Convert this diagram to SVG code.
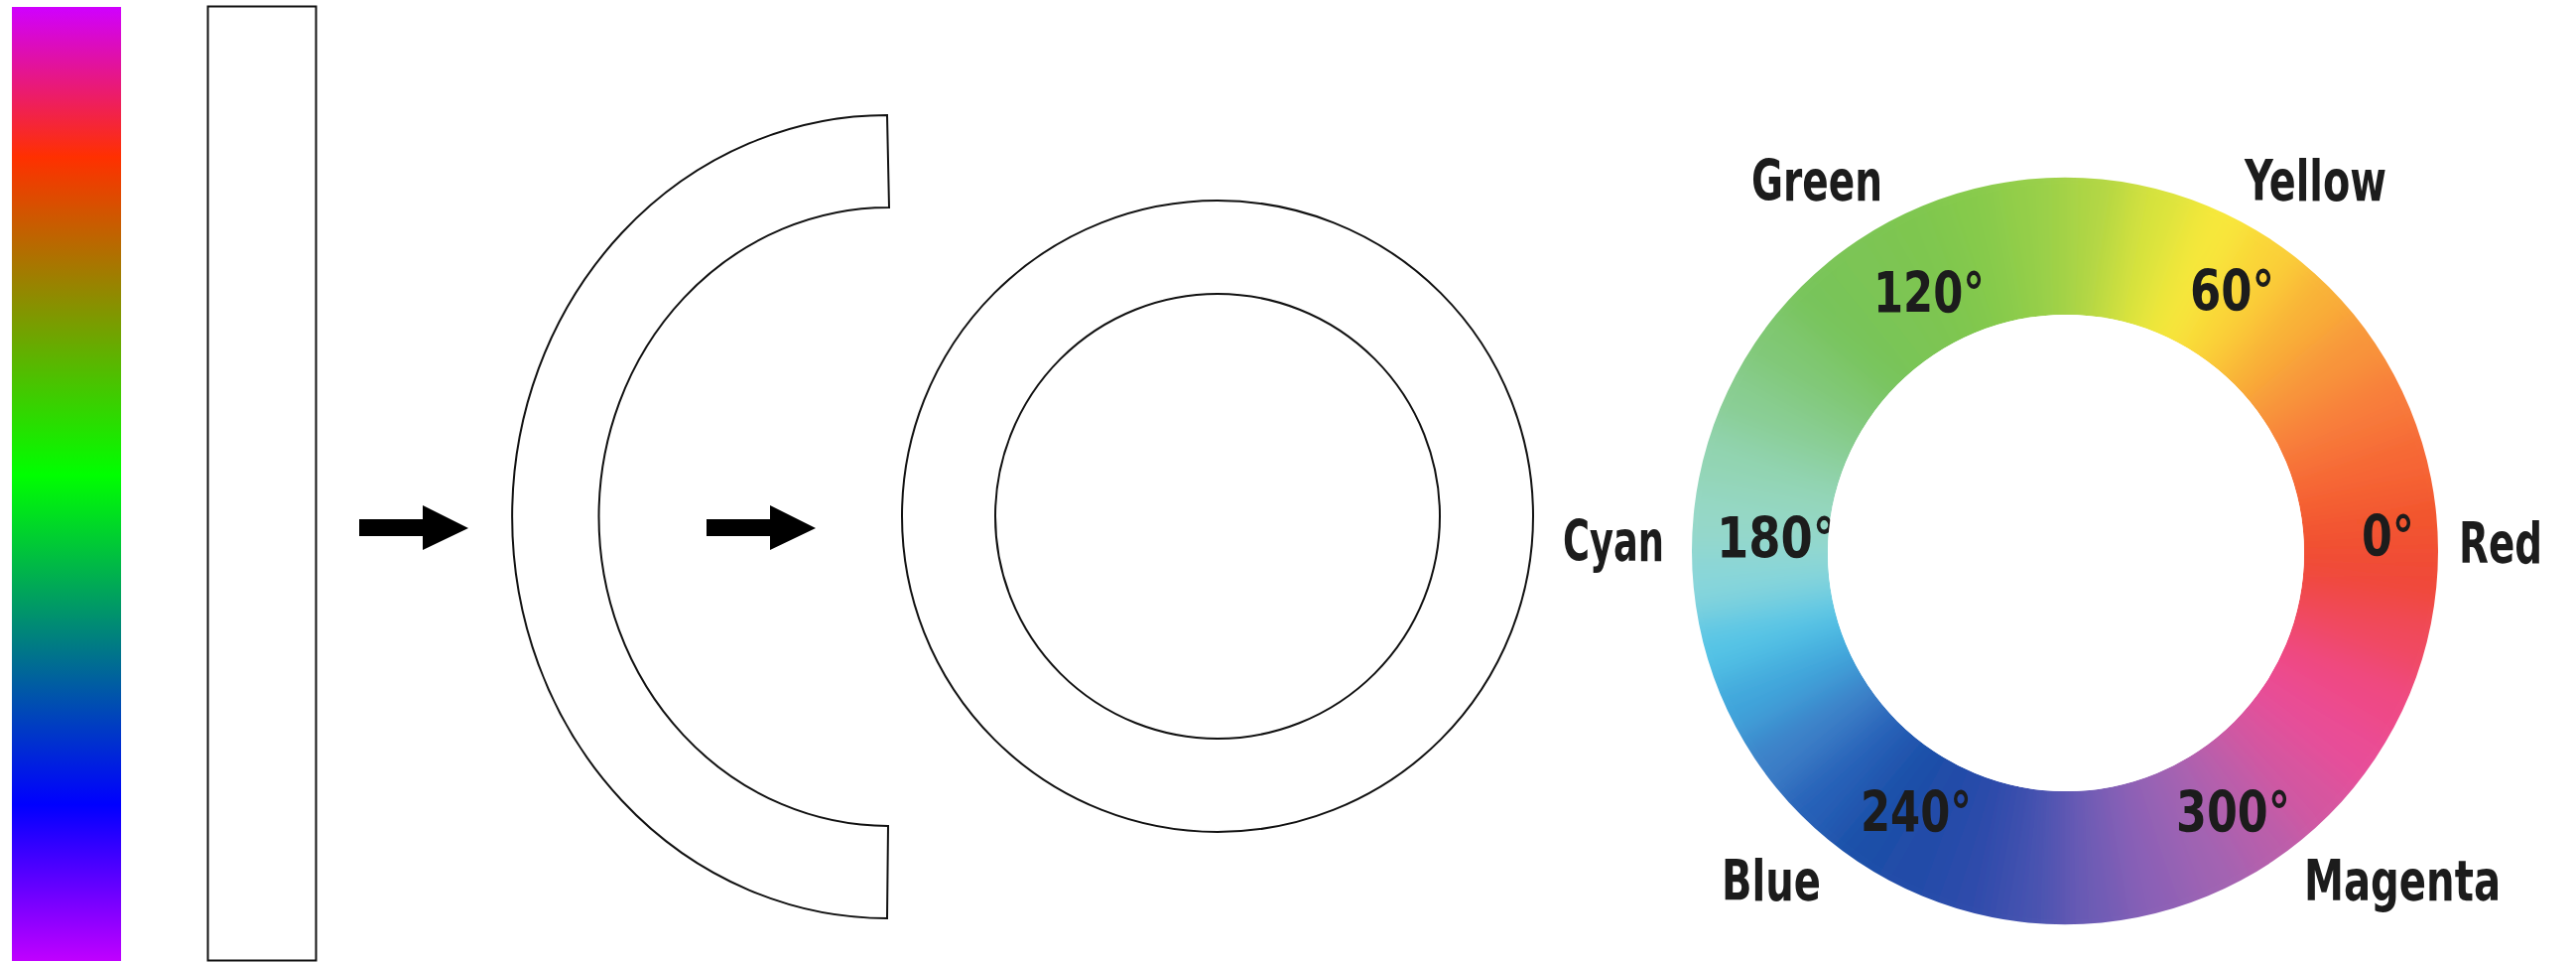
<svg xmlns="http://www.w3.org/2000/svg" xmlns:xlink="http://www.w3.org/1999/xlink" width="2596" height="969" viewBox="0 0 2596 969">
  <style>
    .outline { fill: #ffffff; stroke: #111111; stroke-width: 2; }
    .arrow { fill: #000000; stroke: none; }
    .lbl { font-family: 'Liberation Sans Narrow', 'DejaVu Sans Condensed', 'Roboto Condensed', 'Liberation Sans', sans-serif; font-weight: bold; font-size: 57px; fill: #1c1c1c; }
  </style>
  <defs>
    <linearGradient id="spectrum" x1="0" y1="0" x2="0" y2="1">
      <stop offset="0" stop-color="#d000ff"/>
      <stop offset="0.157" stop-color="#ff3000"/>
      <stop offset="0.49" stop-color="#00ff00"/>
      <stop offset="0.836" stop-color="#0000ff"/>
      <stop offset="1" stop-color="#c000ff"/>
    </linearGradient>
    <path id="wg" d="M0,0 L420,0 A420,420 0 0 0 412.97,-76.54 Z"/>
    <clipPath id="ringClip">
      <path clip-rule="evenodd" d="M1705,555 a376,376 0 1,0 752,0 a376,376 0 1,0 -752,0 Z M1842,557 a240,240 0 1,0 480,0 a240,240 0 1,0 -480,0 Z"/>
    </clipPath>
    <filter id="soft" x="-20%" y="-20%" width="140%" height="140%">
      <feGaussianBlur stdDeviation="20"/>
    </filter>
  </defs>

  <rect width="2596" height="969" fill="#ffffff"/>

  <g id="spectrum-bar">
    <rect x="12" y="7" width="110" height="961" fill="url(#spectrum)"/>
  </g>

  <g id="strip">
    <rect class="outline" x="209.5" y="6.5" width="109" height="961"/>
  </g>

  <g id="bent-strip">
    <path class="outline" d="M894,116 A378,404.5 0 0 0 894,925 L895,832 A292,311.5 0 0 1 896,209 Z"/>
  </g>

  <g id="ring">
    <circle class="outline" cx="1227" cy="520" r="318"/>
    <circle class="outline" cx="1227" cy="520" r="224"/>
  </g>

  <g id="connectors">
    <path class="arrow" d="M362,523 H426 V509 L472,532 L426,554 V540 H362 Z"/>
    <path class="arrow" d="M712,523 H776 V509 L822,532 L776,554 V540 H712 Z"/>
  </g>

  <g id="color-wheel">
    <g clip-path="url(#ringClip)">
      <g transform="translate(2081 556)" filter="url(#soft)">
        <use xlink:href="#wg" href="#wg" fill="#f2542d"/>
        <use xlink:href="#wg" href="#wg" transform="rotate(-10)" fill="#f66636"/>
        <use xlink:href="#wg" href="#wg" transform="rotate(-20)" fill="#f87c3a"/>
        <use xlink:href="#wg" href="#wg" transform="rotate(-30)" fill="#f8943a"/>
        <use xlink:href="#wg" href="#wg" transform="rotate(-40)" fill="#f9b139"/>
        <use xlink:href="#wg" href="#wg" transform="rotate(-50)" fill="#fad238"/>
        <use xlink:href="#wg" href="#wg" transform="rotate(-60)" fill="#f8e83a"/>
        <use xlink:href="#wg" href="#wg" transform="rotate(-70)" fill="#d8e33e"/>
        <use xlink:href="#wg" href="#wg" transform="rotate(-80)" fill="#b0d644"/>
        <use xlink:href="#wg" href="#wg" transform="rotate(-90)" fill="#96cf49"/>
        <use xlink:href="#wg" href="#wg" transform="rotate(-100)" fill="#86ca4c"/>
        <use xlink:href="#wg" href="#wg" transform="rotate(-110)" fill="#7ec650"/>
        <use xlink:href="#wg" href="#wg" transform="rotate(-120)" fill="#7bc555"/>
        <use xlink:href="#wg" href="#wg" transform="rotate(-130)" fill="#78c45a"/>
        <use xlink:href="#wg" href="#wg" transform="rotate(-140)" fill="#80c875"/>
        <use xlink:href="#wg" href="#wg" transform="rotate(-150)" fill="#89cd92"/>
        <use xlink:href="#wg" href="#wg" transform="rotate(-160)" fill="#92d4b2"/>
        <use xlink:href="#wg" href="#wg" transform="rotate(-170)" fill="#96d8c7"/>
        <use xlink:href="#wg" href="#wg" transform="rotate(-180)" fill="#88d6da"/>
        <use xlink:href="#wg" href="#wg" transform="rotate(-190)" fill="#55c5e6"/>
        <use xlink:href="#wg" href="#wg" transform="rotate(-200)" fill="#40a5db"/>
        <use xlink:href="#wg" href="#wg" transform="rotate(-210)" fill="#3c80c8"/>
        <use xlink:href="#wg" href="#wg" transform="rotate(-220)" fill="#2860b8"/>
        <use xlink:href="#wg" href="#wg" transform="rotate(-230)" fill="#1a50a8"/>
        <use xlink:href="#wg" href="#wg" transform="rotate(-240)" fill="#214ba8"/>
        <use xlink:href="#wg" href="#wg" transform="rotate(-250)" fill="#2f4bab"/>
        <use xlink:href="#wg" href="#wg" transform="rotate(-260)" fill="#4652b0"/>
        <use xlink:href="#wg" href="#wg" transform="rotate(-270)" fill="#6e5bb5"/>
        <use xlink:href="#wg" href="#wg" transform="rotate(-280)" fill="#8c61b6"/>
        <use xlink:href="#wg" href="#wg" transform="rotate(-290)" fill="#a063b2"/>
        <use xlink:href="#wg" href="#wg" transform="rotate(-300)" fill="#b85fab"/>
        <use xlink:href="#wg" href="#wg" transform="rotate(-310)" fill="#d456a0"/>
        <use xlink:href="#wg" href="#wg" transform="rotate(-320)" fill="#e84d98"/>
        <use xlink:href="#wg" href="#wg" transform="rotate(-330)" fill="#ef4985"/>
        <use xlink:href="#wg" href="#wg" transform="rotate(-340)" fill="#f0495f"/>
        <use xlink:href="#wg" href="#wg" transform="rotate(-350)" fill="#f04a37"/>
      </g>
    </g>
    <g id="wheel-labels">
      <text class="lbl" x="1765" y="202" textLength="132" lengthAdjust="spacingAndGlyphs">Green</text>
      <text class="lbl" x="2262" y="202" textLength="143" lengthAdjust="spacingAndGlyphs">Yellow</text>
      <text class="lbl" x="1888" y="315" textLength="112" lengthAdjust="spacingAndGlyphs">120°</text>
      <text class="lbl" x="2207" y="313" textLength="85" lengthAdjust="spacingAndGlyphs">60°</text>
      <text class="lbl" x="1575" y="565" textLength="102" lengthAdjust="spacingAndGlyphs">Cyan</text>
      <text class="lbl" x="1730" y="562" textLength="120" lengthAdjust="spacingAndGlyphs">180°</text>
      <text class="lbl" x="2380" y="560" textLength="53" lengthAdjust="spacingAndGlyphs">0°</text>
      <text class="lbl" x="2478" y="567" textLength="84" lengthAdjust="spacingAndGlyphs">Red</text>
      <text class="lbl" x="1875" y="838" textLength="112" lengthAdjust="spacingAndGlyphs">240°</text>
      <text class="lbl" x="2193" y="838" textLength="115" lengthAdjust="spacingAndGlyphs">300°</text>
      <text class="lbl" x="1735" y="907" textLength="100" lengthAdjust="spacingAndGlyphs">Blue</text>
      <text class="lbl" x="2322" y="907" textLength="198" lengthAdjust="spacingAndGlyphs">Magenta</text>
    </g>
    <circle cx="2082" cy="557" r="240" fill="#ffffff"/>
  </g>
</svg>
